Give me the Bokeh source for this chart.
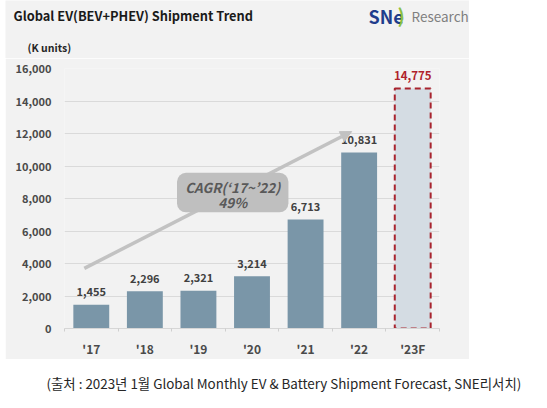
from bokeh.plotting import figure
from bokeh.models import (Range1d, FixedTicker, Label, LabelSet, Arrow, NormalHead,
                          ColumnDataSource, BoxAnnotation, NumeralTickFormatter)
from bokeh.layouts import column
from bokeh.core.properties import value
from bokeh.embed import file_html
from bokeh.resources import INLINE

# ---- data -------------------------------------------------------------
categories = ["'17", "'18", "'19", "'20", "'21", "'22", "'23F"]
shipments = [1455, 2296, 2321, 3214, 6713, 10831, 14775]
forecast_index = 6
y_ticks = [0, 2000, 4000, 6000, 8000, 10000, 12000, 14000, 16000]
title_text = "Global EV(BEV+PHEV)  Shipment Trend"
unit_text = "(K units)"
cagr_lines = ["CAGR(\u201817~\u201922)", "49%"]
cagr_arrow_from = (-0.13, 3700)   # (category index, K units)
cagr_arrow_to = (4.86, 12120)
footer_text = "(\ucd9c\ucc98 : 2023\ub144  1\uc6d4  Global Monthly EV & Battery Shipment Forecast, SNE\ub9ac\uc11c\uce58)"

FONT = "Noto Sans CJK KR"
PANEL = "#f2f2f2"
BAR = "#7a96a8"
FC_FILL = "#d4dce3"
FC_LINE = "#a8242e"
TXT = "#404040"

xs = list(range(len(categories)))
PW = 464  # panel width


def blank(width, height, fill, **kw):
    fig = figure(width=width, height=height, x_range=Range1d(0, width), y_range=Range1d(0, height),
                 x_axis_type=None, y_axis_type=None, output_backend="svg",
                 toolbar_location=None, min_border=0, frame_align=False, **kw)
    fig.grid.visible = False
    fig.outline_line_color = None
    fig.background_fill_color = fill
    fig.border_fill_color = fill
    return fig


# ---- header (title, unit, logo) ---------------------------------------
h = blank(PW, 58, PANEL, margin=(0, 0, 0, 5))
h.add_layout(Label(x=8, y=43, text=title_text, text_baseline="middle", text_font=FONT,
                   text_font_size="12.8px", text_font_style="bold", text_color="#1a1a1a"))
h.add_layout(Label(x=22, y=11, text=unit_text, text_baseline="middle", text_font=FONT,
                   text_font_size="10.5px", text_font_style="bold", text_color="#262626"))
h.add_layout(Label(x=363, y=43, text="SNe", text_baseline="middle", text_font=FONT,
                   text_font_size="18px", text_font_style="bold", text_color="#1f3d8c"))
h.add_layout(Label(x=392, y=44, text=")", text_baseline="middle", text_font=FONT,
                   text_font_size="19px", text_font_style="bold", text_color="#8cbf3f"))
h.add_layout(Label(x=406, y=43, text="Research", text_baseline="middle", text_font=FONT,
                   text_font_size="13.5px", text_color="#7f7f7f"))

# ---- main chart ------------------------------------------------------
p = figure(width=PW, height=301, x_range=Range1d(-0.5, 6.5), y_range=Range1d(0, 16000),
           output_backend="svg", toolbar_location=None, margin=(0, 0, 0, 5), frame_align=False,
           min_border_left=59, min_border_right=30, min_border_top=10, min_border_bottom=27)
p.background_fill_color = PANEL
p.border_fill_color = PANEL
p.outline_line_color = None

p.yaxis.ticker = FixedTicker(ticks=y_ticks)
p.yaxis.formatter = NumeralTickFormatter(format="0,0")
p.yaxis.axis_line_color = None
p.yaxis.major_tick_line_color = None
p.yaxis.minor_tick_line_color = None
p.yaxis.major_tick_out = 0
p.yaxis.minor_tick_out = 0
p.yaxis.major_label_standoff = 13
p.yaxis.major_label_text_font = FONT
p.yaxis.major_label_text_font_style = "bold"
p.yaxis.major_label_text_font_size = "11px"
p.yaxis.major_label_text_color = "#4a4a4a"

p.xaxis.ticker = FixedTicker(ticks=xs, minor_ticks=[i - 0.5 for i in range(len(categories) + 1)])
p.xaxis.major_label_overrides = {i: c for i, c in zip(xs, categories)}
p.xaxis.axis_line_color = "#d6d6d6"
p.xaxis.major_tick_line_color = None
p.xaxis.major_tick_out = 0
p.xaxis.minor_tick_line_color = "#cfcfcf"
p.xaxis.minor_tick_in = 0
p.xaxis.minor_tick_out = 3
p.xaxis.major_label_standoff = 8
p.xaxis.major_label_text_font = FONT
p.xaxis.major_label_text_font_style = "bold"
p.xaxis.major_label_text_font_size = "12px"
p.xaxis.major_label_text_color = "#4a4a4a"

p.xgrid.grid_line_color = None
p.ygrid.grid_line_color = "#dadada"
p.ygrid.grid_line_width = 1

act = ColumnDataSource(dict(x=xs[:forecast_index], top=shipments[:forecast_index],
                            lab=[f"{v:,}" for v in shipments[:forecast_index]]))
fc = ColumnDataSource(dict(x=xs[forecast_index:], top=shipments[forecast_index:],
                           lab=[f"{v:,}" for v in shipments[forecast_index:]]))
p.vbar(x="x", top="top", width=0.67, source=act, fill_color=BAR, line_color=None)
p.vbar(x="x", top="top", width=0.67, source=fc, fill_color=FC_FILL, line_color=FC_LINE,
       line_width=2, line_dash="6 4")

p.add_layout(LabelSet(x="x", y="top", text="lab", source=act, y_offset=13, text_align="center",
                      text_baseline="middle", text_font=value(FONT), text_font_size="11px",
                      text_color=TXT, text_font_style="bold"))
p.add_layout(LabelSet(x="x", y="top", text="lab", source=fc, y_offset=13, text_align="center",
                      text_baseline="middle", text_font=value(FONT), text_font_size="11.5px",
                      text_color="#b0222c", text_font_style="bold"))

p.add_layout(Arrow(x_start=cagr_arrow_from[0], y_start=cagr_arrow_from[1],
                   x_end=cagr_arrow_to[0], y_end=cagr_arrow_to[1],
                   line_color="#c2c2c2", line_width=3.5,
                   end=NormalHead(size=11, fill_color="#c2c2c2", line_color="#c2c2c2")))
p.add_layout(BoxAnnotation(left=1.6, right=3.68, bottom=7150, top=9580,
                           fill_color="#bfbfbf", fill_alpha=1, line_color=None, border_radius=9))
for txt, yv in zip(cagr_lines, [8730, 7800]):
    p.add_layout(Label(x=2.64, y=yv, text=txt, text_align="center", text_baseline="middle",
                       text_font=FONT, text_font_size="13.5px", text_font_style="bold italic",
                       text_color="#595959"))

# ---- footer ------------------------------------------------------------
f = blank(531, 33, "white")
f.add_layout(Label(x=46, y=10, text=footer_text, text_baseline="middle", text_font=FONT,
                   text_font_size="13.4px", text_color="#262626"))

layout = column(h, p, f)
open("out.html", "w").write(file_html(layout, INLINE))
